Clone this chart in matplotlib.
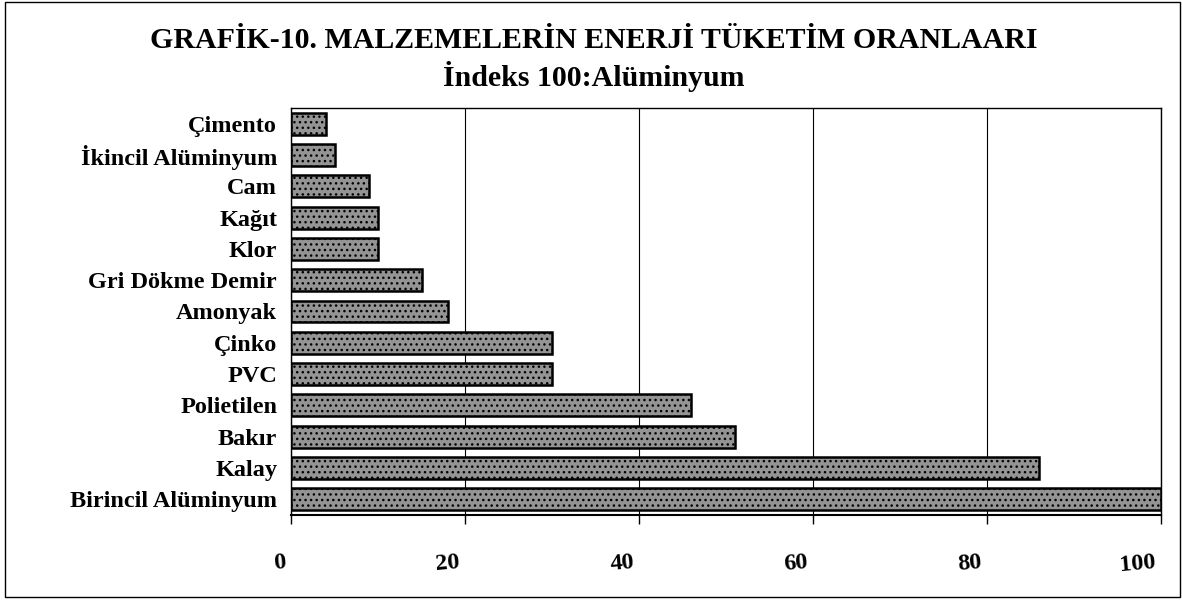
import matplotlib
matplotlib.use("Agg")
import matplotlib.pyplot as plt
from matplotlib.patches import Rectangle
import matplotlib.transforms as mtransforms

plt.rcParams['font.family'] = ['Liberation Serif', 'DejaVu Serif']
plt.rcParams['font.weight'] = 'bold'
plt.rcParams['hatch.color'] = '#3a3a3a'
plt.rcParams['hatch.linewidth'] = 1.0

# data (bottom to top)
materials = ["Birincil Alüminyum", "Kalay", "Bakır", "Polietilen", "PVC", "Çinko",
             "Amonyak", "Gri Dökme Demir", "Klor", "Kağıt", "Cam",
             "İkincil Alüminyum", "Çimento"]
values = [100, 86, 51, 46, 30, 30, 18, 15, 10, 10, 9, 5, 4]
xticks = [0, 20, 40, 60, 80, 100]

W, H = 1182, 601
fig = plt.figure(figsize=(W / 100, H / 100), dpi=100)
ax = fig.add_axes([291 / W, 1 - 515 / H, (1161 - 291) / W, (515 - 108) / H])

ax.barh(range(len(materials)), values, height=0.7, color='#949494',
        edgecolor='black', linewidth=1.8, hatch='...', zorder=3)

ax.set_xlim(0, 100)
ax.set_ylim(-0.5, len(materials) - 0.5)
ax.set_yticks(range(len(materials)))
ax.set_yticklabels(materials, fontsize=17.5, fontweight='bold')
ax.tick_params(axis='y', length=0, pad=10)

ax.set_xticks(xticks)
ax.set_xticklabels([str(v) for v in xticks], fontsize=17.5, fontweight='bold',
                   rotation=5, rotation_mode='anchor', ha='right', va='top')
ax.tick_params(axis='x', direction='out', length=6.5, width=1, pad=20)
offset = mtransforms.ScaledTranslation(-6 / 100, 0, fig.dpi_scale_trans)
for lab in ax.get_xticklabels():
    lab.set_transform(lab.get_transform() + offset)

ax.grid(axis='x', color='black', linewidth=0.8, zorder=0)
for s in ax.spines.values():
    s.set_color('black')
    s.set_linewidth(1)
ax.spines['bottom'].set_linewidth(1.5)

fig.text(594 / W, 1 - 48 / H, "GRAFİK-10. MALZEMELERİN ENERJİ TÜKETİM ORANLAARI",
         ha='center', va='baseline', fontsize=21.5, fontweight='bold')
fig.text(594 / W, 1 - 86 / H, "İndeks 100:Alüminyum",
         ha='center', va='baseline', fontsize=21.5, fontweight='bold')

fig.patches.append(Rectangle((5 / W, 1 - 597 / H), (1180 - 5) / W, (597 - 2) / H,
                             transform=fig.transFigure, fill=False,
                             edgecolor='black', linewidth=1))

fig.savefig("out.png", dpi=100)
